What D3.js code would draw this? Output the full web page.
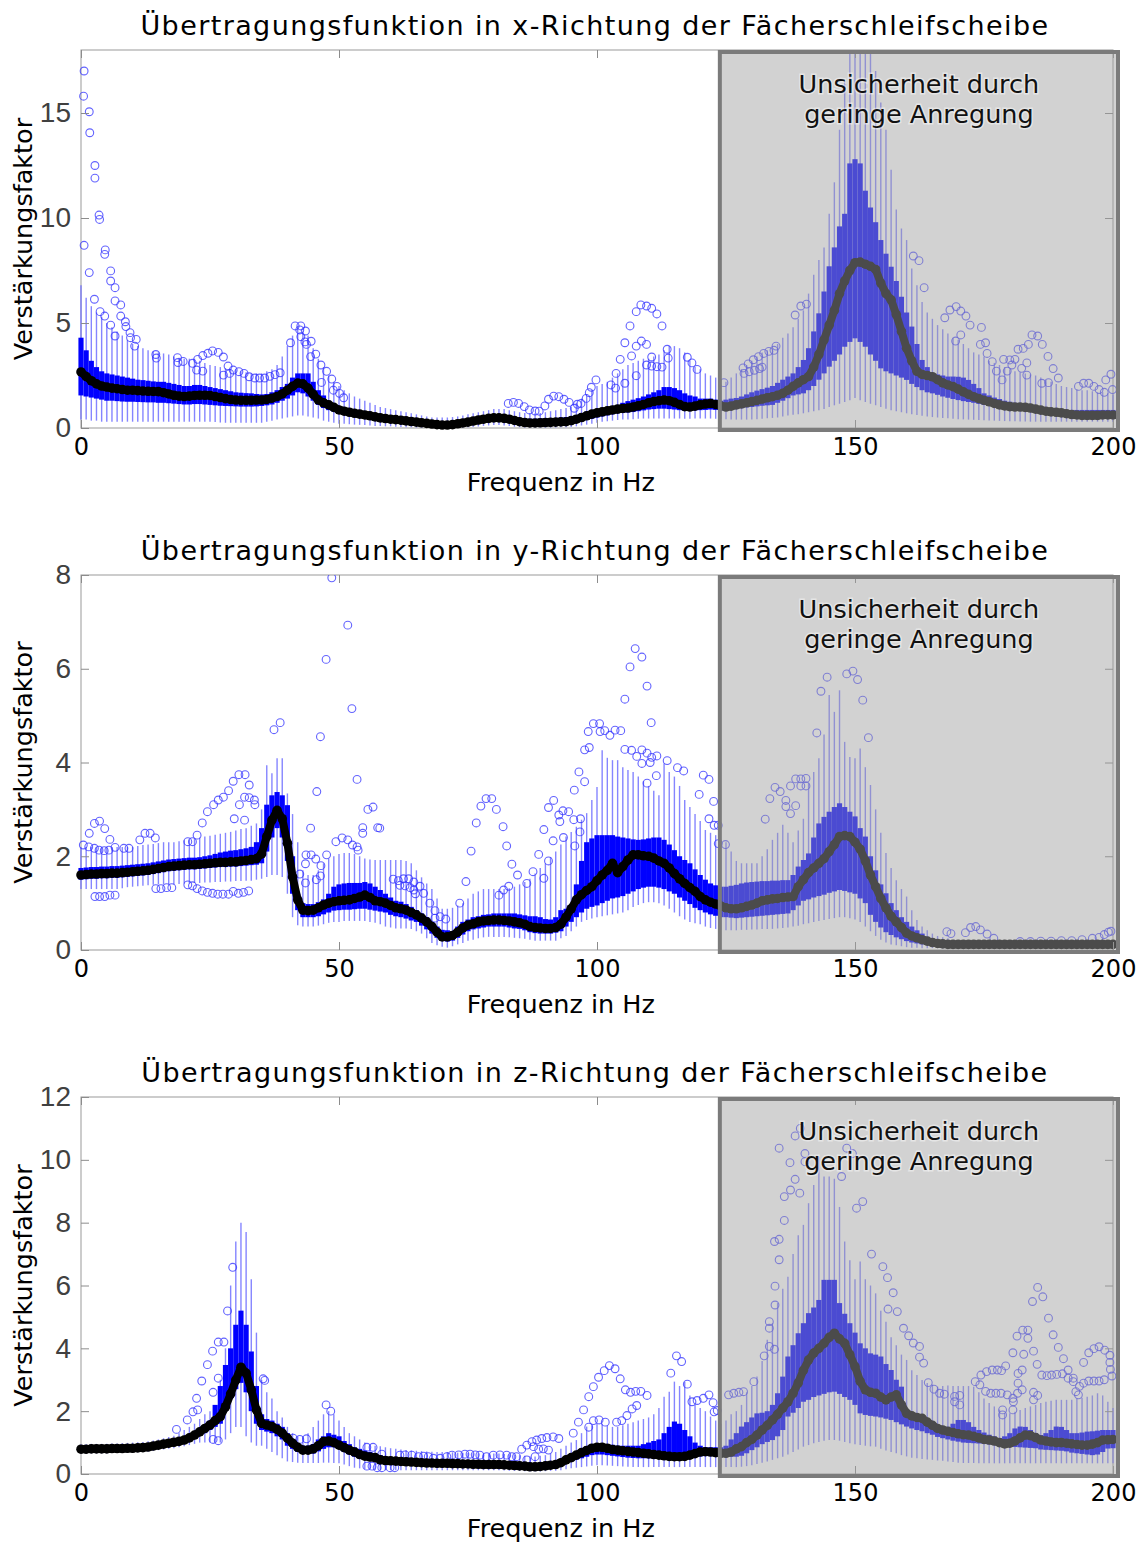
<!DOCTYPE html>
<html>
<head>
<meta charset="utf-8">
<script src="https://cdn.jsdelivr.net/npm/d3@7"></script>
<style>
  body { margin: 0; background: #fff; }
  svg { display: block; }
</style>
</head>
<body>
<div id="chart"></div>
<script>
'use strict';

// one box per Hz, index = frequency 0..200 Hz

// ---- x-direction ----
const medX = [
2.67,2.45,2.25,2.1,2.0,1.95,1.9,1.87,1.83,1.8,
1.8,1.78,1.76,1.75,1.74,1.73,1.68,1.62,1.56,1.52,
1.5,1.52,1.55,1.56,1.56,1.55,1.5,1.45,1.4,1.36,
1.33,1.32,1.32,1.32,1.33,1.33,1.36,1.42,1.5,1.62,
1.8,1.98,2.14,2.1,1.9,1.6,1.33,1.2,1.1,0.98,
0.86,0.8,0.75,0.7,0.66,0.62,0.58,0.53,0.48,0.45,
0.42,0.4,0.37,0.34,0.31,0.28,0.25,0.22,0.19,0.16,
0.14,0.14,0.16,0.2,0.24,0.28,0.33,0.38,0.42,0.46,
0.48,0.48,0.46,0.42,0.36,0.3,0.26,0.24,0.24,0.25,
0.26,0.27,0.28,0.29,0.3,0.35,0.42,0.5,0.58,0.66,
0.72,0.77,0.82,0.86,0.9,0.93,0.95,1.0,1.06,1.12,
1.2,1.26,1.3,1.33,1.3,1.22,1.12,1.02,1.0,1.04,
1.1,1.14,1.17,1.12,1.05,1.0,1.04,1.1,1.15,1.2,
1.26,1.32,1.38,1.44,1.49,1.56,1.65,1.8,1.98,2.15,
2.3,2.45,2.9,3.5,4.2,4.9,5.6,6.4,7.0,7.5,
7.87,7.9,7.8,7.7,7.55,6.9,6.4,6.1,5.4,4.6,
3.8,3.2,2.7,2.55,2.5,2.44,2.3,2.15,2.05,1.97,
1.85,1.72,1.6,1.49,1.4,1.32,1.25,1.17,1.1,1.05,
1.02,1.0,1.0,0.98,0.95,0.9,0.85,0.8,0.77,0.75,
0.72,0.68,0.64,0.62,0.6,0.6,0.6,0.6,0.62,0.62,
0.62];
const q3X = [
4.3,3.7,3.2,2.9,2.7,2.6,2.55,2.5,2.45,2.4,
2.35,2.3,2.28,2.25,2.22,2.2,2.2,2.15,2.1,2.05,
2.0,2.0,2.05,2.05,2.0,1.95,1.9,1.85,1.8,1.75,
1.7,1.68,1.66,1.65,1.62,1.6,1.62,1.7,1.8,1.95,
2.1,2.4,2.6,2.6,2.6,2.2,1.8,1.55,1.3,1.15,
1.0,0.95,0.9,0.85,0.8,0.75,0.7,0.66,0.62,0.58,
0.55,0.52,0.5,0.47,0.44,0.41,0.38,0.35,0.32,0.3,
0.3,0.3,0.32,0.36,0.4,0.44,0.48,0.52,0.56,0.6,
0.62,0.62,0.6,0.56,0.52,0.48,0.45,0.44,0.44,0.45,
0.45,0.46,0.47,0.5,0.52,0.55,0.62,0.7,0.78,0.85,
0.9,0.95,1.0,1.05,1.1,1.2,1.28,1.35,1.42,1.5,
1.6,1.7,1.8,1.95,1.95,1.9,1.8,1.65,1.55,1.5,
1.4,1.4,1.4,1.35,1.3,1.35,1.4,1.43,1.5,1.6,
1.7,1.78,1.85,1.92,2.0,2.15,2.3,2.45,2.6,2.9,
3.24,3.8,4.6,5.46,6.5,7.7,8.6,9.6,10.2,12.6,
12.8,12.6,11.3,10.5,9.8,8.95,8.3,7.68,7.0,6.25,
5.5,4.83,4.0,3.24,2.9,2.6,2.55,2.5,2.45,2.45,
2.44,2.4,2.29,2.1,1.9,1.65,1.55,1.45,1.38,1.3,
1.25,1.2,1.15,1.1,1.05,1.0,0.98,0.95,0.92,0.9,
0.86,0.86,0.86,0.86,0.86,0.86,0.86,0.86,0.86,0.86,
0.86];
const q1X = [
1.55,1.5,1.45,1.4,1.35,1.3,1.3,1.28,1.26,1.25,
1.25,1.24,1.23,1.22,1.22,1.2,1.2,1.18,1.16,1.14,
1.12,1.12,1.14,1.14,1.12,1.1,1.08,1.06,1.05,1.04,
1.03,1.02,1.02,1.02,1.03,1.05,1.08,1.12,1.2,1.3,
1.4,1.55,1.7,1.65,1.5,1.3,1.1,0.95,0.85,0.78,
0.7,0.65,0.6,0.56,0.52,0.48,0.45,0.42,0.39,0.36,
0.33,0.3,0.27,0.24,0.21,0.18,0.15,0.12,0.1,0.08,
0.06,0.06,0.08,0.1,0.13,0.16,0.2,0.24,0.28,0.32,
0.34,0.34,0.32,0.28,0.22,0.18,0.14,0.12,0.12,0.12,
0.13,0.14,0.15,0.16,0.17,0.2,0.26,0.32,0.38,0.44,
0.5,0.55,0.6,0.65,0.7,0.72,0.74,0.76,0.8,0.84,
0.88,0.9,0.92,0.92,0.9,0.88,0.85,0.82,0.82,0.84,
0.85,0.86,0.88,0.86,0.84,0.82,0.86,0.9,0.94,0.98,
1.0,1.03,1.06,1.08,1.1,1.2,1.3,1.42,1.55,1.6,
1.65,1.8,2.0,2.3,2.6,2.92,3.2,3.5,3.87,4.1,
4.27,4.1,3.87,3.5,3.2,2.84,2.7,2.6,2.5,2.4,
2.29,2.1,1.95,1.8,1.7,1.65,1.58,1.5,1.44,1.38,
1.33,1.28,1.24,1.2,1.15,1.1,1.06,1.02,0.99,0.96,
0.94,0.92,0.9,0.88,0.86,0.82,0.79,0.76,0.72,0.68,
0.58,0.56,0.55,0.54,0.53,0.52,0.52,0.52,0.53,0.54,
0.54];
const hiX = [
6.8,6.2,5.8,5.5,5.3,5.0,4.8,4.6,4.4,4.2,
4.0,3.9,3.8,3.7,3.65,3.6,3.55,3.5,3.4,3.35,
3.3,3.3,3.3,3.2,3.1,3.0,2.95,2.9,2.85,2.8,
2.8,2.7,2.65,2.6,2.6,2.6,2.7,2.8,3.0,3.4,
3.9,4.4,4.8,4.6,4.4,3.8,3.3,2.9,2.5,2.2,
2.0,1.8,1.65,1.5,1.4,1.3,1.2,1.1,1.0,0.95,
0.9,0.85,0.8,0.75,0.7,0.65,0.6,0.55,0.5,0.5,
0.5,0.5,0.52,0.55,0.6,0.65,0.7,0.75,0.8,0.85,
0.9,0.9,0.9,0.85,0.8,0.75,0.72,0.7,0.7,0.72,
0.75,0.8,0.85,0.9,0.95,1.0,1.2,1.4,1.6,1.8,
2.0,2.1,2.2,2.4,2.6,2.8,3.0,3.1,3.2,3.3,
3.3,3.4,3.5,3.7,3.9,3.9,3.8,3.6,3.2,2.9,
2.8,2.6,2.5,2.4,2.3,2.2,2.4,2.6,2.8,3.0,
3.2,3.4,3.6,3.7,3.8,4.0,4.3,4.5,4.8,5.2,
5.6,6.4,7.3,8.0,8.6,10.2,11.7,14.2,16.5,18,
18,18,18,18,17,15.5,14.2,12.3,10.4,9.5,
8.95,7.6,6.8,6.0,5.5,5.2,4.9,4.7,4.5,4.3,
4.2,4.0,3.8,3.6,3.5,3.4,3.2,3.1,3.0,2.9,
2.8,2.7,2.65,2.6,2.55,2.5,2.4,2.3,2.2,2.1,
2.0,1.95,1.9,1.85,1.8,1.8,1.75,1.7,1.7,1.65,
1.6];
const loX = [
0.4,0.4,0.35,0.35,0.3,0.3,0.3,0.3,0.3,0.3,
0.3,0.3,0.3,0.3,0.3,0.3,0.3,0.3,0.3,0.3,
0.3,0.3,0.3,0.3,0.3,0.3,0.28,0.26,0.25,0.25,
0.25,0.25,0.25,0.25,0.25,0.25,0.3,0.35,0.4,0.45,
0.5,0.55,0.6,0.6,0.55,0.5,0.45,0.35,0.3,0.25,
0.2,0.2,0.18,0.16,0.15,0.14,0.12,0.1,0.1,0.08,
0.08,0.06,0.05,0.04,0.03,0.02,0.02,0.02,0.01,0.01,
0.0,0.0,0.0,0.01,0.02,0.03,0.05,0.07,0.1,0.12,
0.14,0.14,0.12,0.1,0.06,0.04,0.02,0.02,0.02,0.02,
0.02,0.02,0.02,0.03,0.04,0.05,0.08,0.12,0.16,0.2,
0.25,0.3,0.32,0.35,0.38,0.4,0.4,0.42,0.44,0.45,
0.45,0.45,0.45,0.45,0.45,0.45,0.45,0.44,0.44,0.45,
0.45,0.45,0.45,0.44,0.43,0.42,0.41,0.4,0.4,0.4,
0.4,0.42,0.44,0.46,0.48,0.5,0.55,0.6,0.63,0.66,
0.7,0.75,0.8,0.85,0.9,1.0,1.08,1.16,1.24,1.32,
1.43,1.32,1.24,1.16,1.08,1.0,0.92,0.85,0.8,0.75,
0.7,0.66,0.62,0.58,0.55,0.52,0.5,0.48,0.46,0.44,
0.42,0.41,0.4,0.39,0.38,0.37,0.36,0.35,0.34,0.33,
0.32,0.32,0.31,0.31,0.3,0.3,0.3,0.3,0.3,0.3,
0.3,0.3,0.3,0.3,0.3,0.3,0.3,0.3,0.3,0.3,
0.3];
const outX = [
[0.6,17.0],[0.5,15.8],[1.6,15.06],[1.7,14.06],[2.7,12.5],[2.7,11.9],[3.5,10.14],[3.6,9.93],[0.6,8.7],[4.7,8.48],
[4.6,8.27],[1.6,7.4],[5.75,7.48],[5.75,7.0],[6.6,6.68],[6.6,6.05],[2.6,6.13],[7.7,5.86],[3.7,5.54],[4.6,5.33],
[7.7,5.33],[5.75,4.9],[8.6,5.06],[8.7,4.83],[6.6,4.38],[9.5,4.54],[9.6,4.3],[10.7,4.22],[10.4,3.9],[14.5,3.5],
[14.6,3.33],[18.7,3.35],[18.8,3.12],[19.8,3.17],[21.6,3.08],[22.6,3.27],[23.6,3.45],[24.6,3.56],[25.5,3.67],[26.6,3.6],
[27.6,3.38],[22.4,2.76],[23.6,2.71],[28.5,2.95],[27.6,2.52],[28.8,2.6],[29.5,2.76],[30.6,2.68],[31.6,2.6],[32.6,2.44],
[33.7,2.38],[34.6,2.38],[35.6,2.38],[36.6,2.46],[37.6,2.54],[38.6,2.63],
[40.6,4.06],[41.5,4.86],[42.6,4.86],[42.4,4.67],[43.5,4.62],[42.6,4.35],[43.4,4.1],[43.7,3.98],[44.6,4.13],[44.5,3.4],
[45.5,3.52],[46.5,3.0],[47.6,2.7],[48.6,2.33],[46.6,2.17],[49.6,1.98],[48.9,1.8],[50.1,1.65],[50.9,1.44],
[82.8,1.17],[83.8,1.22],[84.8,1.17],[85.9,1.02],[86.9,0.86],[88.0,0.81],[88.8,0.8],[89.9,1.05],[90.6,1.37],[91.6,1.52],
[92.6,1.49],[93.6,1.37],[94.6,1.22],[95.6,0.94],[96.2,1.13],[96.9,1.17],[97.9,1.41],[98.5,1.68],[98.9,1.94],[99.8,2.29],
[102.7,2.05],[103.6,1.9],[103.7,2.6],[104.5,3.27],[105.4,4.06],[105.4,2.13],[106.4,4.86],[106.7,3.43],[107.6,3.9],[107.6,2.49],
[108.6,4.14],[107.6,5.54],[108.5,5.86],[109.6,5.81],[110.6,5.7],[109.6,3.98],[110.6,3.38],[111.6,5.43],[112.6,4.86],[109.6,3.0],
[110.6,2.95],[111.6,2.92],[112.6,2.9],[113.6,3.75],[113.8,3.33],[117.5,3.37],[118.4,3.1],[119.4,2.79],[124.6,2.16],
[128.3,2.86],[129.3,3.05],[130.3,3.25],[131.3,3.4],[132.3,3.55],[133.3,3.65],[134.3,3.7],[134.7,3.9],[128.5,2.6],[129.5,2.68],
[130.5,2.75],[131.5,2.83],[132,2.9],[138.4,5.38],[139.5,5.81],[140.6,5.9],
[161.3,8.19],[162.4,7.97],[163.4,6.68],[167.4,5.25],[168.4,5.62],[169.6,5.78],[170.5,5.57],[171.5,5.33],[172.3,4.9],[174.5,4.79],
[169.5,4.14],[170.5,4.43],[174.3,3.98],[175.3,4.06],[175.6,3.55],[176.6,3.16],[177.4,2.71],[178.5,2.29],[178.8,3.27],[180,3.24],
[181,3.27],[181.6,3.75],[182.6,3.79],[183.6,3.98],[184.3,4.43],[185.4,4.38],[186.3,3.98],[187.4,3.41],[188.4,2.83],[189.4,2.38],
[179.5,2.71],[180.4,3.0],[182.3,2.84],[183.3,3.1],[183.3,2.52],[186.2,2.13],[187.5,2.16],[193.3,1.98],[194.3,2.13],[195.3,2.13],
[196.3,1.98],[197.3,1.83],[198.6,2.29],[199.6,2.56],[199.9,1.83],[198.3,1.7]
];

// ---- y-direction ----
const medY = [
1.6,1.61,1.62,1.62,1.63,1.63,1.64,1.64,1.65,1.66,
1.67,1.68,1.69,1.7,1.72,1.74,1.76,1.78,1.79,1.8,
1.81,1.82,1.82,1.83,1.84,1.85,1.86,1.87,1.87,1.88,
1.88,1.9,1.91,1.93,1.95,2.05,2.42,2.77,2.98,2.8,
2.28,1.56,1.07,0.85,0.84,0.85,0.9,0.96,1.0,1.03,
1.05,1.06,1.07,1.1,1.13,1.17,1.12,1.05,1.03,1.0,
0.95,0.9,0.88,0.85,0.8,0.75,0.68,0.6,0.5,0.38,
0.28,0.28,0.31,0.38,0.47,0.53,0.56,0.6,0.62,0.63,
0.64,0.64,0.63,0.62,0.6,0.58,0.55,0.5,0.48,0.47,
0.46,0.46,0.48,0.55,0.7,0.88,1.07,1.18,1.27,1.35,
1.48,1.6,1.7,1.85,1.65,1.78,1.92,2.03,2.03,2.01,
2.0,1.96,1.9,1.85,1.75,1.63,1.52,1.42,1.33,1.25,
1.14,1.07,1.02,0.98,0.94,0.9,0.88,0.88,0.9,0.93,
0.96,1.0,1.05,1.07,1.09,1.1,1.12,1.13,1.14,1.35,
1.5,1.65,1.75,1.85,1.95,2.1,2.25,2.42,2.44,2.42,
2.3,2.15,1.9,1.6,1.35,1.1,0.9,0.72,0.6,0.48,
0.36,0.3,0.26,0.22,0.19,0.16,0.14,0.13,0.12,0.12,
0.12,0.12,0.12,0.12,0.12,0.12,0.12,0.12,0.12,0.12,
0.12,0.12,0.12,0.12,0.12,0.12,0.12,0.12,0.12,0.12,
0.12,0.12,0.12,0.12,0.12,0.12,0.12,0.12,0.12,0.12,
0.12];
const q3Y = [
1.75,1.76,1.77,1.77,1.78,1.78,1.79,1.79,1.8,1.81,
1.82,1.83,1.84,1.85,1.87,1.89,1.91,1.93,1.94,1.95,
1.96,1.97,1.97,1.98,2.0,2.02,2.05,2.08,2.1,2.12,
2.13,2.15,2.17,2.2,2.3,2.6,3.1,3.3,3.37,3.3,
3.09,2.0,1.2,1.0,0.98,0.98,1.02,1.08,1.2,1.35,
1.4,1.42,1.43,1.43,1.43,1.45,1.42,1.35,1.28,1.2,
1.12,1.05,1.03,0.98,0.92,0.85,0.78,0.7,0.6,0.5,
0.43,0.42,0.4,0.5,0.6,0.65,0.7,0.72,0.75,0.76,
0.78,0.78,0.78,0.78,0.78,0.76,0.74,0.72,0.72,0.7,
0.66,0.65,0.7,0.85,0.88,0.92,1.4,1.9,2.3,2.38,
2.45,2.45,2.45,2.45,2.42,2.4,2.38,2.36,2.35,2.36,
2.38,2.4,2.4,2.35,2.25,2.13,2.0,1.92,1.85,1.72,
1.6,1.5,1.42,1.38,1.35,1.35,1.37,1.39,1.42,1.44,
1.45,1.46,1.47,1.47,1.48,1.48,1.49,1.49,1.6,1.78,
1.92,2.06,2.4,2.7,2.84,2.95,3.05,3.13,3.05,2.95,
2.85,2.6,2.42,2.0,1.7,1.4,1.21,1.0,0.85,0.7,
0.6,0.5,0.42,0.35,0.28,0.22,0.18,0.16,0.15,0.15,
0.15,0.15,0.15,0.15,0.15,0.15,0.15,0.15,0.15,0.15,
0.15,0.15,0.15,0.15,0.15,0.15,0.15,0.15,0.15,0.15,
0.15,0.15,0.15,0.15,0.15,0.15,0.15,0.15,0.15,0.15,
0.15];
const q1Y = [
1.5,1.51,1.52,1.52,1.53,1.53,1.54,1.54,1.55,1.56,
1.57,1.58,1.59,1.6,1.62,1.64,1.66,1.68,1.69,1.7,
1.71,1.72,1.72,1.73,1.74,1.75,1.76,1.77,1.77,1.78,
1.78,1.79,1.8,1.81,1.82,1.85,2.1,2.4,2.6,2.4,
1.9,1.2,0.85,0.7,0.7,0.7,0.72,0.76,0.8,0.84,
0.85,0.86,0.86,0.87,0.88,0.88,0.86,0.84,0.82,0.8,
0.75,0.72,0.7,0.67,0.63,0.6,0.52,0.44,0.35,0.26,
0.2,0.18,0.2,0.26,0.33,0.4,0.44,0.46,0.48,0.5,
0.5,0.5,0.5,0.48,0.46,0.45,0.42,0.38,0.36,0.35,
0.35,0.35,0.37,0.4,0.5,0.6,0.7,0.8,0.88,0.92,
0.95,1.0,1.05,1.1,1.12,1.15,1.2,1.25,1.3,1.33,
1.35,1.35,1.33,1.3,1.25,1.2,1.12,1.05,0.98,0.9,
0.85,0.8,0.76,0.73,0.7,0.7,0.69,0.68,0.69,0.7,
0.71,0.72,0.73,0.74,0.75,0.76,0.77,0.78,0.85,0.95,
1.05,1.08,1.12,1.15,1.18,1.22,1.25,1.28,1.26,1.23,
1.2,1.1,1.0,0.75,0.6,0.48,0.38,0.32,0.27,0.23,
0.19,0.16,0.14,0.12,0.11,0.1,0.1,0.1,0.1,0.1,
0.1,0.1,0.1,0.1,0.1,0.1,0.1,0.1,0.1,0.1,
0.1,0.1,0.1,0.1,0.1,0.1,0.1,0.1,0.1,0.1,
0.1,0.1,0.1,0.1,0.1,0.1,0.1,0.1,0.1,0.1,
0.1];
const hiY = [
2.2,2.2,2.2,2.2,2.2,2.2,2.2,2.2,2.2,2.2,
2.2,2.22,2.24,2.25,2.26,2.28,2.3,2.3,2.3,2.32,
2.34,2.36,2.38,2.4,2.42,2.44,2.46,2.48,2.5,2.52,
2.55,2.58,2.6,2.65,2.7,3.0,3.94,3.77,4.09,4.09,
3.34,2.9,2.3,1.7,1.6,1.6,1.7,1.85,1.95,2.0,
2.05,2.07,2.07,2.05,2.0,1.95,1.93,1.92,1.92,1.92,
1.92,1.92,1.92,1.9,1.85,1.7,1.55,1.42,1.3,1.1,
0.88,0.88,0.9,0.95,1.0,1.1,1.2,1.25,1.3,1.3,
1.3,1.3,1.3,1.32,1.35,1.4,1.45,1.52,1.63,1.75,
1.85,1.98,2.1,2.25,2.42,2.52,2.63,2.78,2.92,3.2,
3.48,4.26,4.1,4.05,4.05,3.9,3.84,3.8,3.7,3.6,
3.5,3.4,3.3,3.98,3.8,3.7,3.5,3.2,3.05,2.9,
2.75,2.56,2.5,2.45,2.35,2.3,2.1,1.9,1.85,1.85,
1.85,1.85,2.0,2.15,2.35,2.5,2.67,2.5,2.3,2.55,
2.8,3.56,3.8,4.09,4.6,5.44,5.08,5.54,4.44,4.12,
4.09,4.3,3.9,3.52,3.0,2.5,2.07,1.75,1.49,1.3,
1.14,0.85,0.64,0.5,0.42,0.35,0.3,0.27,0.25,0.22,
0.2,0.2,0.2,0.2,0.2,0.2,0.2,0.2,0.2,0.2,
0.2,0.2,0.2,0.2,0.2,0.2,0.2,0.2,0.2,0.2,
0.2,0.2,0.2,0.2,0.2,0.2,0.2,0.2,0.2,0.2,
0.2];
const loY = [
1.3,1.3,1.3,1.3,1.3,1.3,1.3,1.3,1.32,1.34,
1.35,1.36,1.37,1.38,1.39,1.4,1.4,1.4,1.4,1.41,
1.42,1.42,1.43,1.43,1.44,1.44,1.45,1.45,1.46,1.46,
1.47,1.47,1.48,1.48,1.5,1.52,1.56,1.6,1.6,1.56,
1.2,0.7,0.53,0.5,0.5,0.5,0.52,0.55,0.58,0.6,
0.6,0.62,0.62,0.62,0.62,0.62,0.6,0.58,0.55,0.5,
0.48,0.46,0.46,0.46,0.45,0.4,0.35,0.25,0.15,0.1,
0.07,0.05,0.08,0.12,0.15,0.2,0.22,0.25,0.27,0.28,
0.28,0.28,0.28,0.27,0.26,0.25,0.24,0.22,0.2,0.2,
0.2,0.2,0.2,0.25,0.3,0.4,0.5,0.6,0.64,0.67,
0.7,0.72,0.74,0.76,0.78,0.8,0.85,0.92,0.96,1.0,
1.02,1.02,1.0,0.95,0.88,0.8,0.72,0.65,0.6,0.57,
0.55,0.5,0.47,0.45,0.43,0.42,0.42,0.42,0.43,0.43,
0.44,0.44,0.45,0.45,0.45,0.46,0.47,0.48,0.5,0.52,
0.55,0.57,0.6,0.62,0.64,0.66,0.68,0.7,0.7,0.68,
0.65,0.6,0.5,0.4,0.3,0.22,0.16,0.12,0.1,0.08,
0.06,0.05,0.05,0.04,0.04,0.04,0.04,0.04,0.04,0.04,
0.04,0.04,0.04,0.04,0.04,0.04,0.04,0.04,0.04,0.04,
0.04,0.04,0.04,0.04,0.04,0.04,0.04,0.04,0.04,0.04,
0.04,0.04,0.04,0.04,0.04,0.04,0.04,0.04,0.04,0.04,
0.04];
const outY = [
[0.45,2.24],[1.5,2.2],[2.6,2.17],[3.5,2.13],[4.5,2.12],[5.4,2.13],[6.6,2.19],[1.6,2.49],[2.6,2.7],[3.6,2.75],
[4.6,2.59],[5.6,2.36],[8.3,2.17],[9.3,2.17],[11.4,2.35],[12.4,2.49],[13.4,2.49],[14.4,2.39],[20.7,2.31],[21.6,2.31],
[22.5,2.45],[23.5,2.71],[24.5,2.95],[25.7,3.1],[26.6,3.2],[27.6,3.26],[28.6,3.4],[29.5,3.6],[30.6,3.74],[31.8,3.74],
[32.6,3.52],[30.7,3.1],[31.7,3.26],[32.6,3.25],[33.6,3.2],[33.7,3.1],[29.7,2.8],[31.7,2.77],
[2.7,1.14],[3.6,1.14],[4.6,1.14],[5.6,1.17],[6.6,1.17],[14.5,1.31],[15.5,1.31],[16.6,1.33],[17.6,1.33],[20.7,1.39],
[21.6,1.37],[22.5,1.31],[23.5,1.26],[24.5,1.23],[25.5,1.21],[26.5,1.19],[27.5,1.19],[28.6,1.19],[29.5,1.25],[30.5,1.21],
[31.5,1.23],[32.5,1.26],
[37.4,4.7],[38.6,4.85],[48.6,7.94],[51.7,6.93],[47.5,6.2],[52.5,5.15],[46.4,4.55],[53.5,3.64],[45.7,3.38],[55.6,3.0],
[56.6,3.05],[44.5,2.6],[54.6,2.61],[54.6,2.49],[57.5,2.61],[49.4,2.31],[50.6,2.39],[51.7,2.35],[52.6,2.24],[53.5,2.2],
[53.7,2.13],[47.6,2.03],[43.6,2.03],[44.6,2.03],[45.5,1.94],[43.5,1.84],[46.5,1.8],[46.4,1.58],[45.6,1.5],[43.5,1.43],
[42.4,1.62],
[57.9,2.6],[60.5,1.51],[61.5,1.48],[62.5,1.52],[63.5,1.52],[64.5,1.45],[61.8,1.38],[62.8,1.37],[63.8,1.33],[64.5,1.28],
[65.7,1.36],[66.4,1.21],[64.8,1.2],[67.6,1.0],[68.6,0.84],[68.6,0.68],[69.6,0.71],[70.7,0.66],[73.4,1.0],[74.6,1.46],
[75.6,2.11],[76.6,2.71],[77.5,3.07],[78.5,3.23],[79.6,3.23],[80.5,3.0],[81.8,2.63],[82.5,2.22],[83.5,1.83],[84.6,1.6],
[86.4,1.42],[87.6,1.67],[88.7,2.04],[89.7,2.57],[90.6,1.9],[89.7,1.53],[81,1.17],[81.9,1.28],[82.9,1.36],[90.6,3.04],
[91.6,3.19],[91.5,2.33],[92.6,2.88],[92.8,2.74],[93.4,2.97],[93.5,2.4],[94.5,2.95],[95.5,2.78],[95.7,2.22],[96.7,2.52],
[96.8,2.8],
[95.6,3.41],[96.5,3.8],[97.6,3.59],[97.6,4.27],[98.5,4.32],[98.3,4.66],[99.3,4.83],[100.5,4.83],[100.6,4.66],[101.5,4.68],
[102.5,4.58],[103.5,4.69],[104.6,4.68],[105.4,5.35],[106.4,6.04],[107.4,6.43],[108.7,6.25],[109.7,5.63],[110.5,4.85],[105.4,4.28],
[106.7,4.26],[107.7,4.13],[108.7,4.27],[109.7,4.2],[110.6,4.11],[111.6,4.14],[113.6,4.04],[108.7,3.98],[110.3,4.0],[109.7,3.56],
[111.5,3.72],[115.6,3.89],[116.8,3.82],[119.8,3.32],[120.6,3.73],[121.7,3.64],[122.6,3.17],[121.7,2.8],[122.7,2.66],[123.5,2.66],
[123.5,2.27],[124.9,2.25],
[132.6,2.79],[133.5,3.23],[134.5,3.47],[135.5,3.38],[136.6,3.19],[136.6,3.06],[137.5,3.5],[137.5,2.91],[138.5,3.65],[138.5,3.08],
[139.5,3.65],[139.5,3.5],[140.5,3.66],[140.5,3.5],[142.6,4.63],[143.4,5.52],[144.6,5.82],[148.4,5.89],[149.6,5.95],[150.5,5.77],
[151.5,5.33],[152.6,4.53],
[167.8,0.39],[168.6,0.35],[171.4,0.37],[172.4,0.48],[173.4,0.5],[174.3,0.43],[175.6,0.34],[176.9,0.25],[182,0.18],[184,0.18],
[186,0.19],[188,0.19],[190,0.2],[192,0.2],[194,0.22],[196,0.25],[197.3,0.27],[198.3,0.33],[199.1,0.38],[199.6,0.4]
];

// ---- z-direction ----
const medZ = [
0.79,0.79,0.8,0.8,0.8,0.8,0.81,0.81,0.81,0.82,
0.82,0.83,0.84,0.86,0.89,0.92,0.95,0.98,1.01,1.04,
1.08,1.15,1.24,1.34,1.45,1.56,1.7,1.83,2.14,2.55,
2.99,3.4,3.21,2.68,2.04,1.61,1.56,1.51,1.42,1.3,
1.14,0.98,0.85,0.76,0.76,0.8,0.9,1.03,1.05,1.0,
0.92,0.84,0.76,0.7,0.62,0.57,0.54,0.52,0.45,0.43,
0.42,0.41,0.4,0.39,0.38,0.37,0.36,0.35,0.35,0.34,
0.34,0.34,0.33,0.33,0.32,0.32,0.31,0.31,0.3,0.3,
0.3,0.3,0.29,0.28,0.27,0.26,0.25,0.23,0.23,0.24,
0.26,0.28,0.3,0.36,0.45,0.52,0.6,0.68,0.75,0.82,
0.85,0.85,0.82,0.78,0.76,0.74,0.72,0.7,0.68,0.66,
0.64,0.62,0.6,0.58,0.56,0.55,0.55,0.56,0.6,0.65,
0.7,0.71,0.7,0.68,0.66,0.66,0.7,0.8,0.87,1.0,
1.1,1.24,1.4,1.55,1.72,1.9,2.1,2.3,2.57,2.9,
3.3,3.63,3.85,4.0,4.16,4.35,4.48,4.3,4.16,3.8,
3.42,2.95,2.68,2.6,2.57,2.45,2.36,2.45,2.52,2.2,
1.93,1.85,1.8,1.77,1.65,1.55,1.45,1.4,1.36,1.32,
1.28,1.25,1.24,1.2,1.15,1.1,1.08,1.05,1.0,0.96,
0.98,1.05,1.15,1.24,1.22,1.16,1.08,1.05,1.02,1.0,
1.0,0.98,0.96,0.94,0.92,0.92,0.95,1.0,1.08,1.09,
1.1];
const q3Z = [
0.84,0.84,0.85,0.85,0.85,0.85,0.86,0.86,0.86,0.87,
0.87,0.88,0.89,0.91,0.94,0.97,1.0,1.03,1.06,1.1,
1.15,1.22,1.3,1.42,1.55,1.7,2.2,2.8,3.47,4.0,
4.75,5.2,4.75,3.9,2.8,1.9,1.75,1.7,1.6,1.5,
1.3,1.1,0.95,0.9,0.9,0.95,1.1,1.2,1.3,1.25,
1.2,1.05,0.95,0.85,0.8,0.75,0.7,0.65,0.6,0.55,
0.52,0.5,0.49,0.48,0.47,0.46,0.45,0.44,0.44,0.43,
0.43,0.43,0.42,0.42,0.41,0.41,0.4,0.4,0.39,0.39,
0.39,0.39,0.38,0.37,0.36,0.35,0.34,0.33,0.33,0.34,
0.36,0.38,0.4,0.46,0.55,0.63,0.72,0.8,0.88,0.93,
0.95,0.96,0.95,0.93,0.9,0.9,0.9,0.9,0.9,0.95,
1.0,1.05,1.1,1.3,1.5,1.67,1.6,1.4,1.2,1.0,
0.9,0.85,0.85,0.85,0.85,0.9,1.1,1.3,1.51,1.65,
1.8,1.93,1.95,2.0,2.2,2.57,3.1,3.74,4.1,4.48,
4.8,5.12,5.3,5.54,6.18,6.18,6.18,5.44,5.1,4.8,
4.5,4.16,4.0,3.84,3.8,3.74,3.5,3.31,3.0,2.78,
2.04,1.95,1.9,1.83,1.75,1.65,1.55,1.51,1.5,1.6,
1.72,1.72,1.65,1.5,1.4,1.32,1.25,1.2,1.14,1.2,
1.3,1.45,1.51,1.5,1.4,1.3,1.24,1.3,1.4,1.51,
1.5,1.4,1.3,1.3,1.32,1.35,1.36,1.38,1.4,1.4,
1.4];
const q1Z = [
0.74,0.74,0.75,0.75,0.75,0.75,0.76,0.76,0.76,0.77,
0.77,0.78,0.79,0.81,0.84,0.87,0.9,0.93,0.96,0.99,
1.02,1.08,1.15,1.22,1.3,1.4,1.5,1.6,2.0,2.4,
2.7,2.9,2.6,2.0,1.6,1.4,1.35,1.3,1.2,1.1,
0.9,0.8,0.7,0.65,0.65,0.65,0.72,0.8,0.85,0.85,
0.8,0.7,0.62,0.55,0.5,0.45,0.42,0.4,0.36,0.34,
0.33,0.32,0.31,0.3,0.29,0.28,0.27,0.26,0.26,0.25,
0.25,0.25,0.24,0.24,0.23,0.23,0.22,0.22,0.21,0.21,
0.21,0.21,0.2,0.19,0.18,0.17,0.16,0.15,0.15,0.16,
0.18,0.2,0.22,0.27,0.34,0.4,0.46,0.5,0.55,0.6,
0.62,0.62,0.6,0.58,0.56,0.54,0.52,0.51,0.5,0.5,
0.5,0.5,0.5,0.5,0.5,0.5,0.5,0.5,0.52,0.54,
0.56,0.57,0.57,0.56,0.55,0.55,0.55,0.55,0.58,0.66,
0.76,0.85,0.95,1.02,1.08,1.2,1.4,1.83,1.95,2.1,
2.3,2.36,2.45,2.5,2.55,2.6,2.62,2.55,2.45,2.36,
2.2,1.93,1.88,1.85,1.83,1.8,1.76,1.72,1.65,1.58,
1.51,1.45,1.4,1.36,1.3,1.25,1.18,1.14,1.1,1.06,
1.03,1.0,0.99,0.98,0.97,0.96,0.94,0.92,0.9,0.88,
0.87,0.86,0.85,0.84,0.83,0.82,0.78,0.77,0.76,0.75,
0.74,0.72,0.68,0.66,0.64,0.62,0.6,0.62,0.7,0.81,
0.82];
const hiZ = [
0.95,0.95,0.96,0.96,0.96,0.96,0.97,0.97,0.98,0.99,
1.0,1.01,1.02,1.04,1.07,1.1,1.14,1.18,1.22,1.3,
1.4,1.5,1.6,1.75,1.9,2.0,2.2,3.0,4.0,6.0,
7.4,8.0,7.7,6.2,4.5,3.0,2.6,2.4,2.0,1.8,
1.5,1.3,1.2,1.2,1.3,1.5,1.7,1.9,2.0,1.9,
1.7,1.5,1.3,1.2,1.1,1.0,0.95,0.9,0.88,0.85,
0.82,0.8,0.78,0.76,0.75,0.74,0.73,0.72,0.71,0.7,
0.7,0.7,0.69,0.68,0.68,0.67,0.66,0.66,0.65,0.65,
0.65,0.65,0.64,0.63,0.62,0.6,0.58,0.56,0.56,0.58,
0.6,0.65,0.7,0.8,0.9,1.0,1.08,1.3,1.51,1.55,
1.6,1.6,1.55,1.5,1.5,1.55,1.6,1.65,1.7,1.75,
1.8,1.9,2.1,2.46,2.62,2.94,2.8,2.94,2.5,2.2,
2.1,2.0,1.83,1.7,1.6,1.7,1.9,2.0,2.2,2.6,
2.8,3.1,3.6,4.27,4.8,5.44,5.9,6.28,7.0,7.6,
7.93,8.62,9.2,10.1,9.47,9.47,9.4,8.5,7.4,6.8,
6.2,6.76,6.2,6.0,5.75,5.2,4.85,4.35,4.1,3.8,
3.63,3.3,3.15,2.99,2.9,2.85,2.78,2.8,2.82,2.8,
2.8,2.8,2.8,2.78,2.6,2.4,2.26,2.15,2.05,1.95,
1.93,1.98,2.04,2.1,2.15,2.2,2.26,2.3,2.33,2.36,
2.36,2.36,2.36,2.4,2.43,2.46,2.5,2.57,2.5,2.3,
2.1];
const loZ = [
0.65,0.65,0.66,0.66,0.66,0.66,0.67,0.67,0.67,0.68,
0.68,0.69,0.7,0.71,0.73,0.76,0.78,0.8,0.82,0.85,
0.88,0.92,0.96,1.0,1.0,1.0,1.0,1.0,1.1,1.3,
1.5,1.5,1.2,1.0,0.9,0.9,0.8,0.7,0.6,0.5,
0.4,0.38,0.36,0.35,0.35,0.35,0.35,0.36,0.36,0.35,
0.34,0.3,0.25,0.2,0.18,0.15,0.14,0.13,0.12,0.12,
0.12,0.12,0.12,0.12,0.12,0.12,0.12,0.12,0.12,0.12,
0.12,0.12,0.12,0.12,0.12,0.12,0.12,0.12,0.12,0.12,
0.12,0.12,0.11,0.1,0.1,0.1,0.09,0.08,0.08,0.08,
0.09,0.1,0.1,0.12,0.15,0.18,0.2,0.22,0.24,0.26,
0.28,0.28,0.27,0.26,0.25,0.24,0.23,0.22,0.22,0.22,
0.22,0.22,0.22,0.22,0.22,0.22,0.22,0.22,0.22,0.22,
0.22,0.22,0.22,0.22,0.22,0.22,0.22,0.22,0.23,0.25,
0.28,0.32,0.36,0.4,0.45,0.5,0.55,0.62,0.7,0.78,
0.87,0.92,0.98,1.02,1.06,1.08,1.08,1.06,1.02,0.98,
0.95,0.92,0.9,0.88,0.87,0.8,0.75,0.7,0.66,0.6,
0.56,0.52,0.5,0.48,0.46,0.45,0.43,0.42,0.4,0.38,
0.36,0.35,0.35,0.35,0.34,0.34,0.34,0.34,0.34,0.34,
0.34,0.34,0.34,0.34,0.34,0.34,0.34,0.34,0.34,0.34,
0.34,0.34,0.34,0.34,0.34,0.34,0.34,0.34,0.34,0.34,
0.34];
const outZ = [
[18.5,1.42],[20.6,1.72],[21.7,1.98],[22.4,2.41],[22.6,2.04],[23.4,2.96],[24.5,3.48],[25.5,3.91],[26.6,4.2],[27.7,4.2],
[28.4,5.19],[29.4,6.58],[25.6,2.6],[26.6,3.05],[25.6,1.1],[26.6,1.06],[35.3,3.03],[35.6,2.98],[47.5,2.2],[48.4,2.0],
[41.1,1.14],[42.4,1.1],[43.7,1.12],[55.4,0.85],[56.6,0.85],[55.4,0.25],[56.4,0.25],[57.4,0.2],
[58.3,0.63],[58.3,0.2],[59.9,0.2],[60.8,0.2],[61.8,0.6],[62.8,0.61],[64.1,0.6],[65.4,0.55],[66.4,0.57],[67.3,0.55],
[68.3,0.5],[69.6,0.5],[70.9,0.55],[71.9,0.6],[73.2,0.61],[74.4,0.63],[75.4,0.63],[76.4,0.61],[77.3,0.6],[78.6,0.55],
[79.9,0.6],[81.2,0.61],[82.5,0.6],[83.5,0.55],[84.4,0.55],[85.4,0.79],[86.4,0.92],[87.4,1.03],[88.3,1.08],[89.3,1.13],
[90.3,1.16],[91.5,1.18],[92.6,1.13],[86.4,0.45],[87.7,0.87],[88.7,0.79],[89.6,0.8],[90.6,0.76],[88,0.55],
[95.4,1.3],[96.4,1.65],[97.4,2.04],[98.4,2.46],[99.3,2.78],[100.3,3.08],[101.4,3.29],[102.4,3.45],[103.5,3.35],[104.5,3.03],
[105.5,2.68],[106.5,2.6],[107.5,2.63],[108.5,2.63],[109.7,2.5],[98.4,1.49],[99.3,1.7],[100.4,1.72],[101.6,1.65],[103.8,1.65],
[104.8,1.7],[105.8,1.86],[106.8,2.07],[107.7,2.18],[114.3,3.21],[115.4,3.76],[116.4,3.58],[117.5,2.86],[118.4,2.3],[119.4,2.34],
[120.6,2.41],[121.7,2.52],[122.5,2.27],[122.7,1.98],[123.3,2.02],[125.5,2.52],[126.5,2.57],[127.5,2.6],[128.4,2.62],[130.4,2.94],
[132.4,3.76],[133.4,4.06],[134.4,3.97],[133.4,4.64],[133.4,4.85],[134.5,5.38],[134.5,5.98],[135.3,6.82],[134.4,7.4],[135.3,7.47],
[136.3,8.07],[136.3,8.83],[137.5,9.04],[138.4,9.38],[139.3,8.94],[137.4,9.91],[135.3,10.37],[138.4,10.76],[139.4,11.0],[140.3,10.2],
[140.3,9.94],[147.4,9.47],[148.4,10.37],[149.5,10.2],[150.3,8.46],[151.5,8.67],[153.2,7.0],[155.4,6.6],[156.3,6.25],[157.4,5.77],
[156.4,5.25],[158.2,5.17],[159.4,4.64],[160.4,4.4],[161.3,4.17],[162.5,4.06],[162.5,3.72],[163.3,3.53],[164.2,2.91],[165.3,2.7],
[166.4,2.57],[167.3,2.54],[169.3,2.47],[170.3,2.5],[169.3,2.3],[170.3,2.2],
[173.3,2.94],[174.4,3.15],[175.5,3.26],[176.6,3.31],[177.6,3.31],[178.4,3.29],[179.2,3.44],[174.2,2.84],[175.3,2.63],[176.3,2.57],
[177.3,2.57],[178.3,2.57],[179.5,2.52],[180.6,2.41],[180.7,2.3],[181.5,2.57],[182.4,2.68],[180.6,2.04],[178.6,2.04],[178.6,1.88],
[181.6,3.2],[181.6,2.89],[182.4,3.31],[180.6,3.86],[181.4,4.39],[182.5,4.58],[183.5,4.58],[183.5,4.32],[182.7,3.81],[184.6,3.91],
[185.3,3.49],[184.6,2.6],[184.6,2.36],[185.4,2.5],[184.4,5.49],[185.4,5.94],[186.4,5.64],[187.5,4.96],[188.4,4.43],[189.4,4.03],
[190.4,3.67],[191.3,3.31],[192.3,3.05],[193.5,2.79],[194.3,3.55],[195.3,3.86],[196.3,3.99],[197.3,4.05],[198.4,3.94],[199.4,3.78],
[199.4,3.55],[199.5,3.33],[199.8,3.12],[186.2,3.15],[187.2,3.13],[188.1,3.15],[189.1,3.17],[190.2,3.19],[191.3,3.05],[192.3,2.94],
[192.8,2.62],[193.3,2.52],[194.3,2.89],[195.3,2.96],[196.3,2.96],[197.3,2.96],[198.3,3.0]
];

const titles = [
  "Übertragungsfunktion in x-Richtung der Fächerschleifscheibe",
  "Übertragungsfunktion in y-Richtung der Fächerschleifscheibe",
  "Übertragungsfunktion in z-Richtung der Fächerschleifscheibe"
];
const yMax = [18, 8, 12];
const yTickValues = [[0, 5, 10, 15], [0, 2, 4, 6, 8], [0, 2, 4, 6, 8, 10, 12]];
const xTickValues = [0, 50, 100, 150, 200];
const xLabel = "Frequenz in Hz";
const yLabel = "Verstärkungsfaktor";
const noteLines = ["Unsicherheit durch", "geringe Anregung"];
const lowExcitationFrom = 124; // Hz

const series = [
  {med: medX, q1: q1X, q3: q3X, hi: hiX, lo: loX, out: outX},
  {med: medY, q1: q1Y, q3: q3Y, hi: hiY, lo: loY, out: outY},
  {med: medZ, q1: q1Z, q3: q3Z, hi: hiZ, lo: loZ, out: outZ}
];

// layout
const width = 1141, height = 1544;
const plotLeft = 81, plotRight = 1113;
const panelBox = [
  {top: 50, bottom: 428},
  {top: 575, bottom: 950},
  {top: 1097, bottom: 1474}
];
const sans = "'DejaVu Sans', Verdana, sans-serif";

series.forEach((s, k) => {
  ["med", "q1", "q3", "hi", "lo"].forEach(key => {
    if (s[key].length !== 201) throw new Error("panel " + k + " " + key + " has " + s[key].length);
  });
});

const svg = d3.select("#chart").append("svg")
  .attr("width", width)
  .attr("height", height);

const xScale = d3.scaleLinear().domain([0, 200]).range([plotLeft, plotRight]);
const step = xScale(1) - xScale(0);

series.forEach((s, k) => {
  const box = panelBox[k];
  const yScale = d3.scaleLinear().domain([0, yMax[k]]).range([box.bottom, box.top]);
  const idx = d3.range(s.med.length);
  const g = svg.append("g");

  g.append("clipPath").attr("id", "clip" + k)
    .append("rect")
    .attr("x", plotLeft - 6)
    .attr("y", box.top)
    .attr("width", plotRight - plotLeft + 12)
    .attr("height", box.bottom - box.top + 6);

  // frame
  g.append("rect")
    .attr("x", plotLeft).attr("y", box.top)
    .attr("width", plotRight - plotLeft).attr("height", box.bottom - box.top)
    .attr("fill", "none").attr("stroke", "#999").attr("stroke-width", 1);

  const plot = g.append("g").attr("clip-path", `url(#clip${k})`);

  // whiskers
  plot.append("g")
    .selectAll("line")
    .data(idx)
    .join("line")
      .attr("x1", i => xScale(i))
      .attr("x2", i => xScale(i))
      .attr("y1", i => yScale(s.lo[i]))
      .attr("y2", i => yScale(s.hi[i]))
      .attr("stroke", "#6666ff")
      .attr("stroke-opacity", 0.8)
      .attr("stroke-width", 1.4);

  // boxes
  plot.append("g")
    .selectAll("rect")
    .data(idx)
    .join("rect")
      .attr("x", i => xScale(i) - step / 2)
      .attr("width", step)
      .attr("y", i => yScale(s.q3[i]))
      .attr("height", i => yScale(s.q1[i]) - yScale(s.q3[i]))
      .attr("fill", "#0000ff");

  // outliers
  plot.append("g")
    .selectAll("circle")
    .data(s.out)
    .join("circle")
      .attr("cx", d => xScale(d[0]))
      .attr("cy", d => yScale(d[1]))
      .attr("r", 3.9)
      .attr("fill", "none")
      .attr("stroke", "#2f2fff")
      .attr("stroke-opacity", 0.75)
      .attr("stroke-width", 1.1);

  // median
  plot.append("path")
    .datum(idx)
    .attr("fill", "none")
    .attr("stroke", "#000")
    .attr("stroke-width", 8)
    .attr("stroke-linejoin", "round")
    .attr("d", d3.line().x(i => xScale(i)).y(i => yScale(s.med[i])));

  plot.append("g")
    .selectAll("circle")
    .data(idx)
    .join("circle")
      .attr("cx", i => xScale(i))
      .attr("cy", i => yScale(s.med[i]))
      .attr("r", 4.8)
      .attr("fill", "#000");

  // ticks (inward)
  g.append("g")
    .attr("transform", `translate(${plotLeft},0)`)
    .call(d3.axisLeft(yScale).tickValues(yTickValues[k]).tickSize(-8).tickPadding(10).tickFormat(d3.format("d")))
    .call(a => a.select(".domain").remove())
    .call(a => a.selectAll("line").attr("stroke", "#8c8c8c"))
    .call(a => a.selectAll("text")
      .attr("font-family", "'Liberation Sans', Arial, sans-serif")
      .attr("font-size", 28)
      .attr("fill", "#404040"));

  g.append("g")
    .attr("transform", `translate(${plotRight},0)`)
    .call(d3.axisRight(yScale).tickValues(yTickValues[k]).tickSize(-8).tickFormat(""))
    .call(a => a.select(".domain").remove())
    .call(a => a.selectAll("line").attr("stroke", "#8c8c8c"));

  g.append("g")
    .attr("transform", `translate(0,${box.bottom})`)
    .call(d3.axisBottom(xScale).tickValues(xTickValues).tickSize(-8).tickPadding(10).tickFormat(d3.format("d")))
    .call(a => a.select(".domain").remove())
    .call(a => a.selectAll("line").attr("stroke", "#8c8c8c"))
    .call(a => a.selectAll("text")
      .attr("font-family", sans)
      .attr("font-size", 24)
      .attr("fill", "#000"));

  g.append("g")
    .attr("transform", `translate(0,${box.top})`)
    .call(d3.axisTop(xScale).tickValues(xTickValues).tickSize(-8).tickFormat(""))
    .call(a => a.select(".domain").remove())
    .call(a => a.selectAll("line").attr("stroke", "#8c8c8c"));

  // low-excitation shading
  const shadeX = xScale(lowExcitationFrom) - 1;
  const shadeW = xScale(200) + 5 - shadeX;
  g.append("rect")
    .attr("x", shadeX)
    .attr("y", box.top + 2)
    .attr("width", shadeW)
    .attr("height", box.bottom - box.top)
    .attr("fill", "rgba(160,160,160,0.47)")
    .attr("stroke", "#7b7b7b")
    .attr("stroke-width", 4);

  g.append("g")
    .selectAll("text")
    .data(noteLines)
    .join("text")
      .attr("x", shadeX + shadeW / 2)
      .attr("y", (d, i) => box.top + 43 + i * 30)
      .attr("text-anchor", "middle")
      .attr("font-family", sans)
      .attr("font-size", 25.5)
      .attr("fill", "#111")
      .attr("stroke", "#fff")
      .attr("stroke-opacity", 0.45)
      .attr("stroke-width", 3)
      .attr("paint-order", "stroke")
      .text(d => d);

  // titles and labels
  g.append("text")
    .attr("x", 595)
    .attr("y", box.top - 15)
    .attr("text-anchor", "middle")
    .attr("font-family", sans)
    .attr("font-size", 27)
    .attr("letter-spacing", 1.4)
    .attr("fill", "#000")
    .text(titles[k]);

  g.append("text")
    .attr("x", xScale(93))
    .attr("y", box.bottom + 63)
    .attr("text-anchor", "middle")
    .attr("font-family", sans)
    .attr("font-size", 25.5)
    .attr("fill", "#000")
    .text(xLabel);

  g.append("text")
    .attr("transform", `translate(32,${(box.top + box.bottom) / 2}) rotate(-90)`)
    .attr("text-anchor", "middle")
    .attr("font-family", sans)
    .attr("font-size", 25.5)
    .attr("fill", "#000")
    .text(yLabel);
});
</script>
</body>
</html>
